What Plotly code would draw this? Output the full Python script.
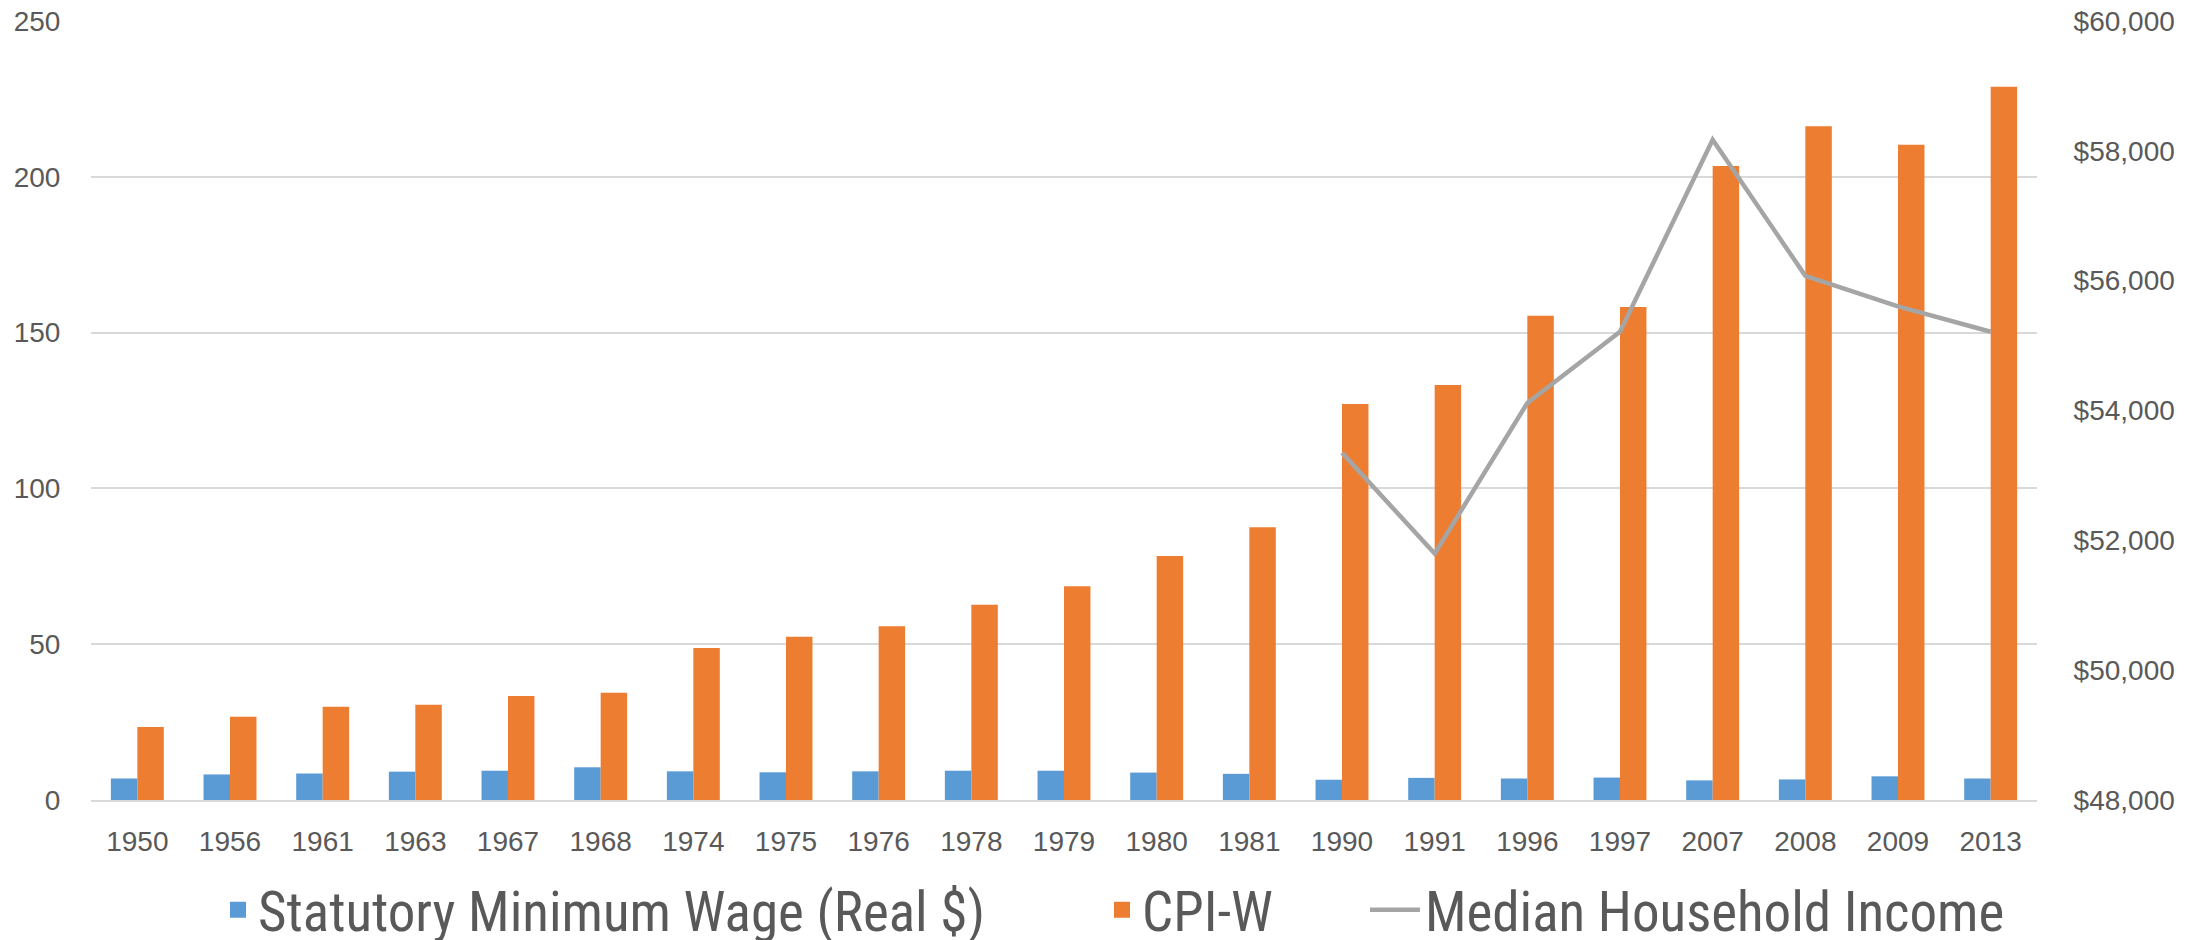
import plotly.graph_objects as go

years = ["1950", "1956", "1961", "1963", "1967", "1968", "1974", "1975", "1976", "1978",
         "1979", "1980", "1981", "1990", "1991", "1996", "1997", "2007", "2008", "2009", "2013"]
min_wage_real = [6.9, 8.2, 8.5, 9.1, 9.4, 10.5, 9.2, 8.9, 9.2, 9.4,
                 9.4, 8.8, 8.4, 6.5, 7.1, 6.9, 7.2, 6.3, 6.6, 7.6, 6.9]
cpi_w = [23.4, 26.7, 29.9, 30.6, 33.4, 34.4, 48.8, 52.4, 55.8, 62.7,
         68.6, 78.3, 87.5, 127.1, 133.2, 155.4, 158.2, 203.5, 216.2, 210.3, 228.9]
median_income = [None] * 13 + [53350, 51795, 54115, 55213, 58170, 56075, 55605, 55213]

left_ticks = [0, 50, 100, 150, 200, 250]
right_ticks = [48000, 50000, 52000, 54000, 56000, 58000, 60000]

BLUE, ORANGE, GREY = "#5B9BD5", "#ED7D31", "#A5A5A5"
TXT = "#595959"
GRID = "#D9D9D9"
TICKFONT = dict(family="Liberation Sans, Arial, sans-serif", size=28, color=TXT)
LEGFONT = dict(family="Liberation Sans Narrow, Arial Narrow, Roboto Condensed, Liberation Sans", size=55, color=TXT)

fig = go.Figure()
fig.add_trace(go.Bar(x=years, y=min_wage_real, name="Statutory Minimum Wage (Real $)",
                     marker=dict(color=BLUE, line=dict(width=0)), showlegend=False))
fig.add_trace(go.Bar(x=years, y=cpi_w, name="CPI-W",
                     marker=dict(color=ORANGE, line=dict(width=0)), showlegend=False))
fig.add_trace(go.Scatter(x=years, y=median_income, name="Median Household Income", yaxis="y2",
                         mode="lines", line=dict(color=GREY, width=4.5),
                         connectgaps=False, legend="legend3"))
# legend-only entries with larger square swatches for the two bar series
fig.add_trace(go.Scatter(x=[None], y=[None], name="Statutory Minimum Wage (Real $)", mode="markers",
                         marker=dict(symbol="square", size=16, color=BLUE), legend="legend"))
fig.add_trace(go.Scatter(x=[None], y=[None], name="CPI-W", mode="markers",
                         marker=dict(symbol="square", size=16, color=ORANGE), legend="legend2"))

W, H = 2201, 932           # page body has an 8px margin
L, R, T, B = 83, 172, 13, 140
pw = W - L - R
ph = H - T - B

def px_x(x):
    return (x - L) / pw

def px_y(y):
    return (H - B - y) / ph

leg_common = dict(orientation="h", yanchor="middle", xanchor="left", font=LEGFONT,
                  bgcolor="rgba(0,0,0,0)", borderwidth=0, y=px_y(902), itemsizing="trace")

fig.update_layout(
    width=W, height=H,
    margin=dict(l=L, r=R, t=T, b=B, autoexpand=False),
    paper_bgcolor="white", plot_bgcolor="white",
    barmode="group", bargap=0.4286, bargroupgap=0,
    showlegend=True,
    legend=dict(x=px_x(210), **leg_common),
    legend2=dict(x=px_x(1094), **leg_common),
    legend3=dict(x=px_x(1357), itemwidth=50, **leg_common),
    xaxis=dict(type="category", tickfont=TICKFONT, showgrid=False, zeroline=False,
               showline=True, linecolor=GRID, linewidth=1.5,
               ticks="outside", ticklen=16, tickcolor="rgba(0,0,0,0)"),
    yaxis=dict(range=[0, 250], tickvals=left_ticks, tickfont=TICKFONT,
               showgrid=True, gridcolor=GRID, gridwidth=1.5, zeroline=False,
               showline=False, ticks="outside", ticklen=24, tickcolor="rgba(0,0,0,0)",
               ticklabeloverflow="allow"),
    yaxis2=dict(range=[48000, 60000], tickvals=right_ticks, tickformat="$,.0f",
                overlaying="y", side="right", tickfont=TICKFONT, showgrid=False,
                zeroline=False, showline=False, ticks="outside", ticklen=30,
                tickcolor="rgba(0,0,0,0)", ticklabeloverflow="allow"),
)

fig.write_html("out.html")
